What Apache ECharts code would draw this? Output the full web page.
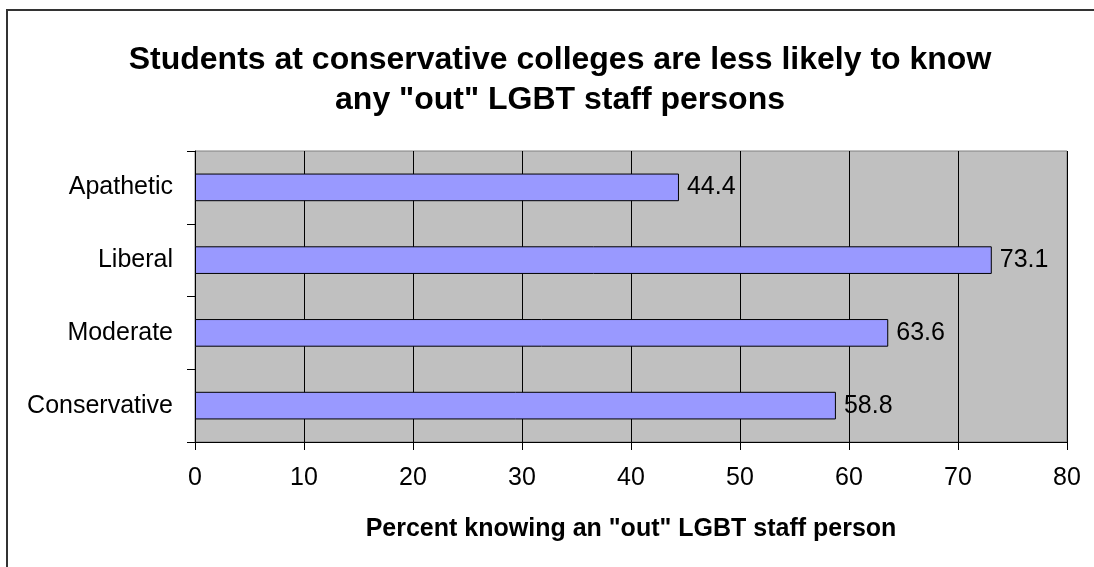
<!DOCTYPE html>
<html>
<head>
<meta charset="utf-8">
<script src="https://cdn.jsdelivr.net/npm/echarts@6/dist/echarts.min.js"></script>
<style>
html,body{margin:0;padding:0;background:#fff;}
#chart{width:1094px;height:567px;}
</style>
</head>
<body>
<div id="chart"></div>
<script>
const categories = ['Conservative', 'Moderate', 'Liberal', 'Apathetic'];
const values = [58.8, 63.6, 73.1, 44.4];
const xTicks = { min: 0, max: 80, interval: 10 };
const titleText = 'Students at conservative colleges are less likely to know\nany "out" LGBT staff persons';
const xAxisTitle = 'Percent knowing an "out" LGBT staff person';

const FONT = '"Liberation Sans", Arial, sans-serif';
const chart = echarts.init(document.getElementById('chart'));
chart.setOption({
  animation: false,
  backgroundColor: '#ffffff',
  title: {
    text: titleText,
    left: 555,
    top: 35,
    textAlign: 'center',
    textStyle: { fontFamily: FONT, fontSize: 32, fontWeight: 'bold', color: '#000', lineHeight: 40 }
  },
  graphic: [{
    type: 'rect',
    shape: { x: 7, y: 10, width: 1200, height: 800 },
    style: { fill: 'none', stroke: '#333', lineWidth: 2 },
    silent: true
  }],
  grid: {
    left: 195, right: 27, top: 151, bottom: 125,
    show: true, backgroundColor: '#C0C0C0', borderColor: '#808080', borderWidth: 1
  },
  xAxis: {
    type: 'value',
    min: xTicks.min, max: xTicks.max, interval: xTicks.interval,
    name: xAxisTitle,
    nameLocation: 'middle',
    nameGap: 75,
    nameTextStyle: { fontFamily: FONT, fontSize: 25, fontWeight: 'bold', color: '#000' },
    axisLine: { show: true, lineStyle: { color: '#000', width: 1 } },
    axisTick: { show: true, length: 8, lineStyle: { color: '#000' } },
    axisLabel: { margin: 24, fontFamily: FONT, fontSize: 25, color: '#000' },
    splitLine: { show: true, lineStyle: { color: '#000', width: 1 } }
  },
  yAxis: {
    type: 'category',
    data: categories,
    axisLine: { show: true, lineStyle: { color: '#000', width: 1 } },
    axisTick: { show: true, length: 8, alignWithLabel: false, lineStyle: { color: '#000' } },
    axisLabel: { margin: 22, fontFamily: FONT, fontSize: 25, color: '#000' },
    splitLine: { show: false }
  },
  series: [{
    type: 'bar',
    data: values,
    barWidth: '38%',
    itemStyle: { color: '#9999FF', borderColor: '#000', borderWidth: 1 },
    label: {
      show: true, position: 'right', distance: 8,
      fontFamily: FONT, fontSize: 25, color: '#000',
      formatter: p => p.value.toFixed(1)
    }
  }]
});
</script>
</body>
</html>
